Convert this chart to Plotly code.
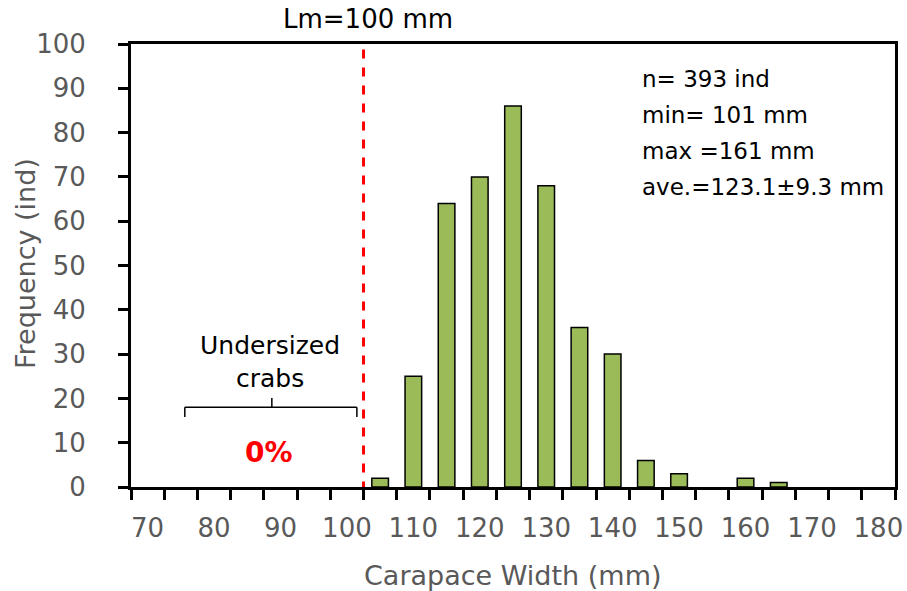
import plotly.graph_objects as go

# Data
width_classes = [70, 75, 80, 85, 90, 95, 100, 105, 110, 115, 120, 125, 130, 135,
                 140, 145, 150, 155, 160, 165, 170, 175, 180]
frequency = [0, 0, 0, 0, 0, 0, 0, 2, 25, 64, 70, 86, 68, 36,
             30, 6, 3, 0, 2, 1, 0, 0, 0]
x_tick_values = [70, 80, 90, 100, 110, 120, 130, 140, 150, 160, 170, 180]
x_tick_labels = [str(v) for v in x_tick_values]
y_tick_values = [0, 10, 20, 30, 40, 50, 60, 70, 80, 90, 100]
boundaries = [67.5 + 5 * i for i in range(24)]
lm_line_x = 102.5
stats_lines = ["n= 393 ind", "min= 101 mm", "max =161 mm", "ave.=123.1±9.3 mm"]

FONT = "DejaVu Sans"
GREY = "#595959"
W, H = 907, 591
L, R, T, B = 131, 12, 44, 104


def px_x(p):
    return (p - L) / (W - L - R)


def px_y(p):
    return 1 - (p - T) / (H - T - B)


fig = go.Figure()
fig.add_trace(go.Bar(
    x=width_classes, y=[v if v > 0 else None for v in frequency], width=2.5,
    marker=dict(color="#9BBB59", line=dict(color="black", width=1.5)),
    showlegend=False,
))

fig.update_layout(
    width=W, height=H,
    margin=dict(l=L, r=R, t=T, b=B),
    paper_bgcolor="white", plot_bgcolor="white",
    font=dict(family=FONT, color=GREY),
    xaxis=dict(
        range=[67.5, 182.5], automargin=False,
        tickvals=x_tick_values, ticktext=x_tick_labels,
        ticks="", tickfont=dict(size=26, color=GREY), ticklabelstandoff=16,
        showgrid=False, zeroline=False,
        showline=True, linecolor="black", linewidth=3, mirror=True,
        minor=dict(tickvals=boundaries, ticks="outside", ticklen=10,
                   tickwidth=3, tickcolor="black", showgrid=False),
    ),
    yaxis=dict(
        range=[0, 100], tickvals=y_tick_values, automargin=False,
        ticks="outside", ticklen=10, tickwidth=3, tickcolor="black",
        tickfont=dict(size=26, color=GREY), ticklabelstandoff=27,
        showgrid=False, zeroline=False,
        showline=True, linecolor="black", linewidth=3, mirror=True,
    ),
)

# Lm dashed line
fig.add_shape(type="line", x0=lm_line_x, x1=lm_line_x, y0=-0.8, y1=98.8,
              xref="x", yref="y", line=dict(color="red", width=3, dash="dash"))

# Bracket
bk = dict(color="black", width=1.5)
fig.add_shape(type="line", x0=75.6, x1=101.5, y0=18.0, y1=18.0, line=bk)
fig.add_shape(type="line", x0=75.6, x1=75.6, y0=18.0, y1=15.8, line=bk)
fig.add_shape(type="line", x0=101.5, x1=101.5, y0=18.0, y1=15.8, line=bk)
fig.add_shape(type="line", x0=88.7, x1=88.7, y0=18.0, y1=20.1, line=bk)


def label(x, y, text, size, color="black", angle=0, xanchor="center"):
    fig.add_annotation(x=px_x(x), y=px_y(y), xref="paper", yref="paper",
                       text=text, showarrow=False, textangle=angle,
                       xanchor=xanchor, yanchor="middle",
                       font=dict(size=size, color=color, family=FONT))


# Axis titles
label(512, 575, "Carapace Width (mm)", 27, GREY)
label(25, 264, "Frequency (ind)", 27, GREY, angle=-90)

label(368, 19, "Lm=100 mm", 26)
label(270, 345, "Undersized", 25)
label(270, 378, "crabs", 25)
label(269, 452, "<b>0%</b>", 28, "red")

for i, line in enumerate(stats_lines):
    label(640, 79 + 36 * i, line, 23, xanchor="left")

fig.write_html("out.html", config={"displayModeBar": False},
               post_script="document.body.style.margin='0px';")
